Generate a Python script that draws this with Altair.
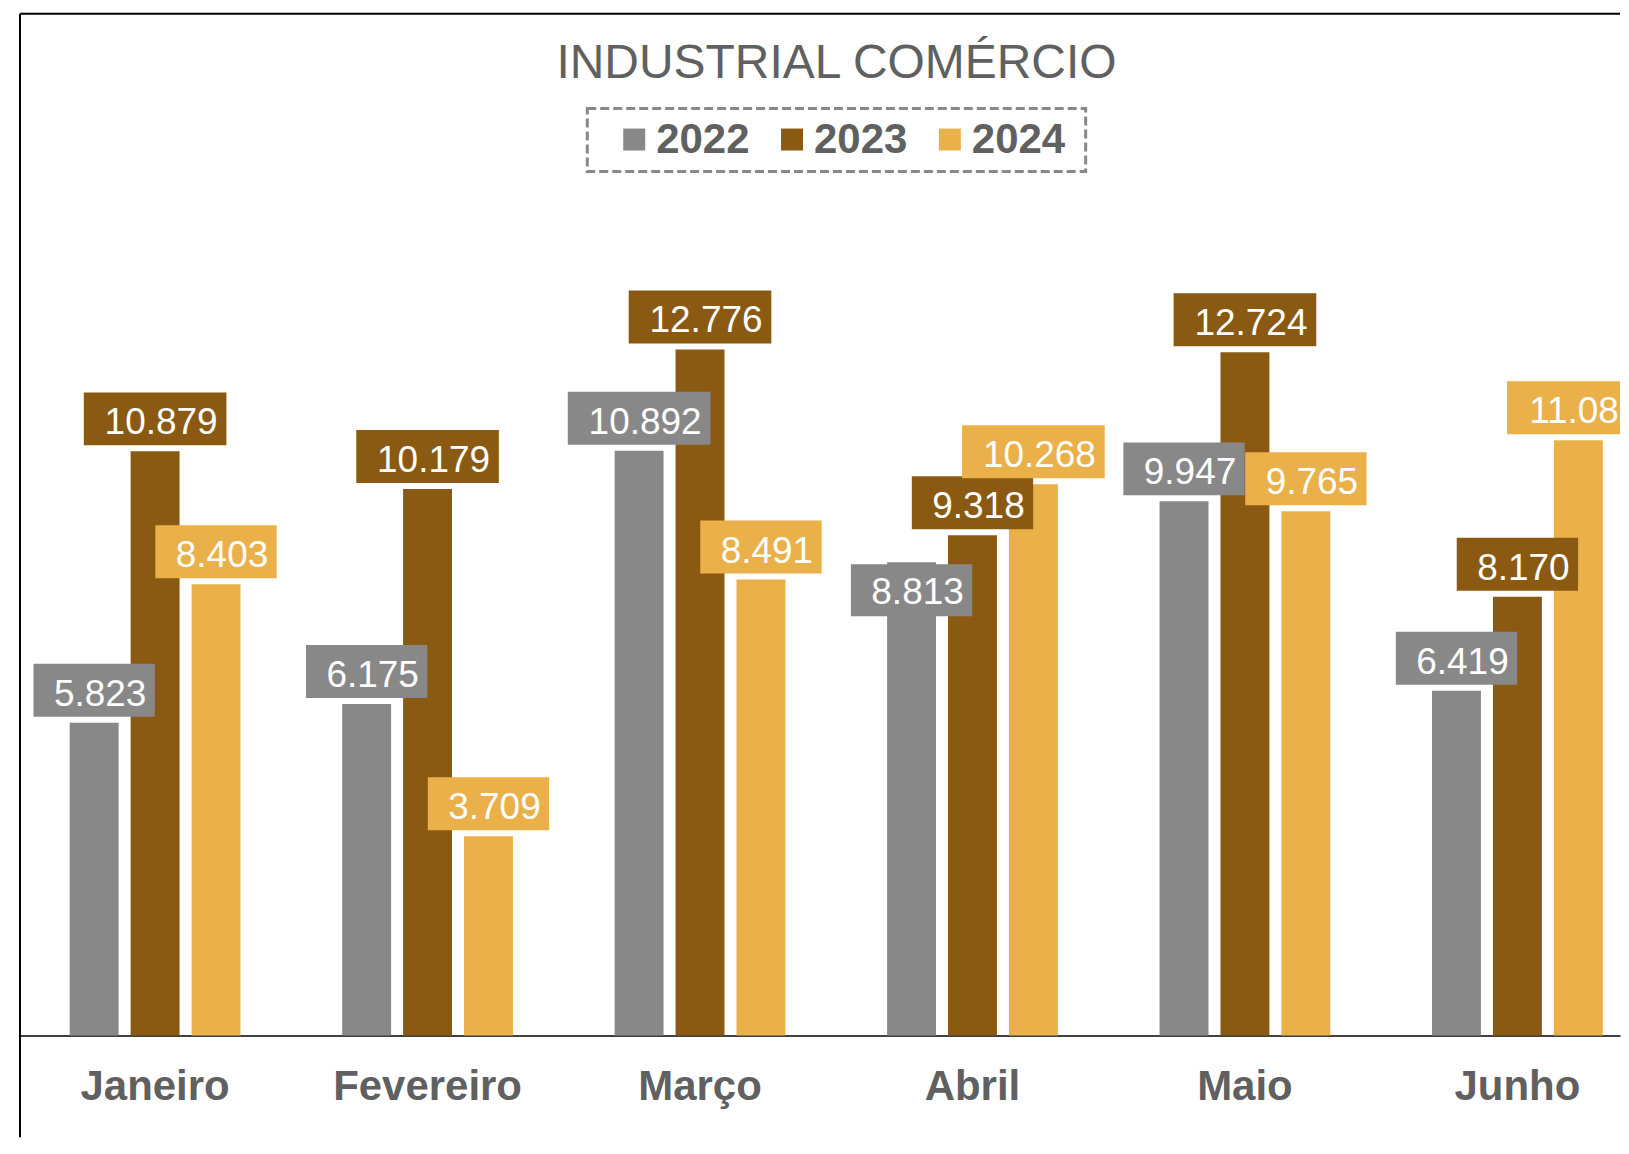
import altair as alt
import pandas as pd

months = ["Janeiro", "Fevereiro", "Março", "Abril", "Maio", "Junho"]
years = ["2022", "2023", "2024"]
v2022 = [5823, 6175, 10892, 8813, 9947, 6419]
v2023 = [10879, 10179, 12776, 9318, 12724, 8170]
v2024 = [8403, 3709, 8491, 10268, 9765, 11086]
colors = ["#888888", "#8A5A12", "#EAB04A"]
labels_inside = [("Abril", "2022")]
title_text = "INDUSTRIAL COMÉRCIO"

rows = []
for yr, vals in zip(years, [v2022, v2023, v2024]):
    for m, v in zip(months, vals):
        rows.append({"month": m, "year": yr, "value": v,
                     "inside": (m, yr) in labels_inside})
df = pd.DataFrame(rows)

W = 1602
H = 1023
FONT = "Liberation Sans"
GREY_TXT = "#606060"

x_enc = alt.X(
    "month:N", sort=months,
    scale=alt.Scale(paddingInner=0.3732, paddingOuter=0.1228, align=0.743),
    axis=alt.Axis(title=None, labelAngle=0, ticks=False, tickSize=0,
                  domainColor="#404040", domainWidth=2, grid=False,
                  labelFontSize=42, labelFontWeight="bold", labelColor=GREY_TXT,
                  labelFont=FONT, labelPadding=31, labelLimit=400),
)
xo_enc = alt.XOffset("year:N", sort=years,
                     scale=alt.Scale(paddingInner=0.197, paddingOuter=0))
y_enc = alt.Y("value:Q", scale=alt.Scale(domain=[0, 19030], nice=False, zero=True),
              axis=None)
color_scale = alt.Scale(domain=years, range=colors)

base = alt.Chart(df).transform_calculate(
    label="replace(format(datum.value, ','), ',', '.')",
    boxw="21.3 * length(replace(format(datum.value, ','), ',', '.')) + 15",
)

bars = base.mark_bar().encode(
    x=x_enc, xOffset=xo_enc, y=y_enc,
    color=alt.Color("year:N", scale=color_scale, sort=years,
                    legend=alt.Legend(orient="none", legendX=594, legendY=105,
                                      direction="horizontal", title=None,
                                      symbolType="square", symbolSize=484,
                                      symbolStrokeWidth=0, labelFontSize=42,
                                      labelFontWeight="bold", labelColor=GREY_TXT,
                                      labelFont=FONT, columnPadding=21,
                                      labelOffset=1, padding=0)),
)

def label_layers(inside):
    sub = base.transform_filter(
        "datum.inside" if inside else "!datum.inside")
    if inside:
        box_off, box_off2, tdy = 54, 2, 42
    else:
        box_off, box_off2, tdy = -6, -59, -17
    box = sub.mark_bar(yOffset=box_off, y2Offset=box_off2, clip=True).encode(
        x=x_enc, xOffset=xo_enc, y=y_enc, y2="value:Q",
        size=alt.Size("boxw:Q", scale=None),
        color=alt.Color("year:N", scale=color_scale, legend=None),
    )
    txt = sub.mark_text(dy=tdy, dx=6, baseline="alphabetic", align="center",
                        fontSize=37, font=FONT, color="white", clip=True).encode(
        x=x_enc, xOffset=xo_enc, y=y_enc, text="label:N",
    )
    return [box, txt]

one = alt.Data(values=[{"t": title_text}])
frame_left = alt.Chart(one).mark_rule(color="#000000", strokeWidth=2).encode(
    x=alt.value(0), y=alt.value(0), y2=alt.value(1125))
frame_top = alt.Chart(one).mark_rule(color="#000000", strokeWidth=2).encode(
    x=alt.value(0), x2=alt.value(W), y=alt.value(0))
legend_box = alt.Chart(one).mark_rect(filled=False, stroke="#888888",
                                      strokeWidth=3, strokeDash=[9, 4]).encode(
    x=alt.value(568), x2=alt.value(1067), y=alt.value(95), y2=alt.value(158))
title = alt.Chart(one).mark_text(fontSize=48, font=FONT, color=GREY_TXT,
                                 align="center", baseline="alphabetic").encode(
    x=alt.value(817.5), y=alt.value(64), text="t:N")

chart = alt.layer(
    bars, *label_layers(False), *label_layers(True),
    frame_left, frame_top, legend_box, title,
).properties(
    width=W, height=H,
    background="white",
    padding={"left": 11, "top": 4, "right": 0, "bottom": 0},
    autosize=alt.AutoSizeParams(type="pad"),
).configure_view(stroke="transparent", strokeWidth=0)

chart.save("out.html", embed_options={"renderer": "svg", "actions": False})
